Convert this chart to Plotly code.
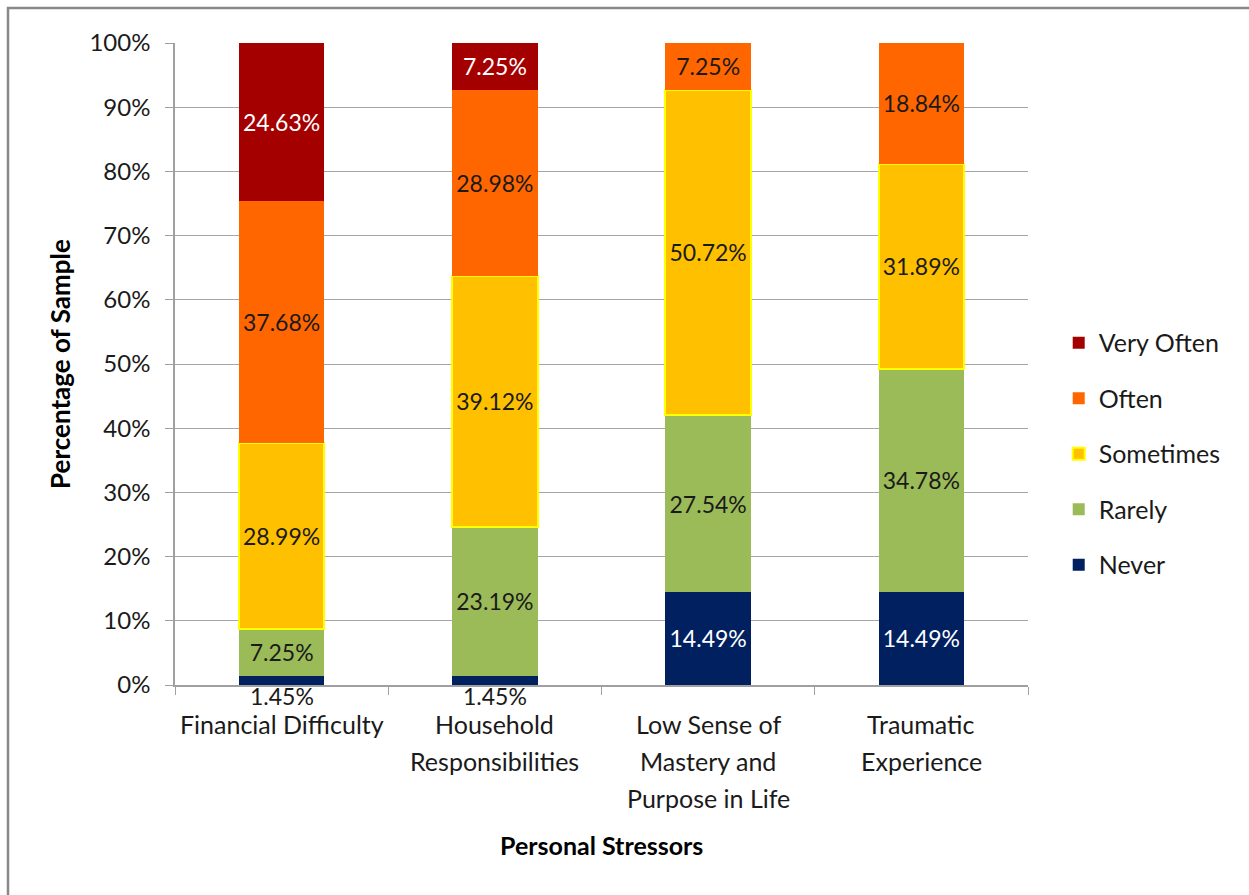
import plotly.graph_objects as go

categories = ["Financial Difficulty", "Household Responsibilities",
              "Low Sense of Mastery and Purpose in Life", "Traumatic Experience"]
category_lines = [["Financial Difficulty"],
                  ["Household", "Responsibilities"],
                  ["Low Sense of", "Mastery and", "Purpose in Life"],
                  ["Traumatic", "Experience"]]

never = [1.45, 1.45, 14.49, 14.49]
rarely = [7.25, 23.19, 27.54, 34.78]
sometimes = [28.99, 39.12, 50.72, 31.89]
often = [37.68, 28.98, 7.25, 18.84]
very_often = [24.63, 7.25, 0, 0]

y_ticks = [0, 10, 20, 30, 40, 50, 60, 70, 80, 90, 100]
y_tick_labels = [f"{v}%" for v in y_ticks]

series = [
    ("Never", never, "#002060", "white", None),
    ("Rarely", rarely, "#9BBB59", "#1a1a1a", None),
    ("Sometimes", sometimes, "#FFC000", "#1a1a1a", "#FFFF00"),
    ("Often", often, "#FF6600", "#1a1a1a", None),
    ("Very Often", very_often, "#A50000", "white", None),
]

FONT = "Lato, 'Open Sans', sans-serif"
W, H = 1249, 895
ML, MR, MT, MB = 175, 221, 43, 210
PW, PH = W - ML - MR, H - MT - MB

fig = go.Figure()
annotations = []
n = len(series)
for i, (name, vals, color, tcolor, lcolor) in enumerate(series):
    texts = [f"{v:.2f}%" if v >= 3 else "" for v in vals]
    fig.add_trace(go.Bar(
        name=name, x=categories, y=vals, text=texts,
        textposition="inside", insidetextanchor="middle", textangle=0,
        textfont=dict(family=FONT, size=23, color=tcolor),
        marker=dict(color=color,
                    line=dict(color=lcolor if lcolor else color,
                              width=2 if lcolor else 0)),
        width=0.4, legendgroup=name, legendrank=n - i, hoverinfo="skip",
    ))
    for c, v in zip(categories, vals):
        if 0 < v < 3:
            annotations.append(dict(
                x=c, y=0, xref="x", yref="y", text=f"{v:.2f}%",
                showarrow=False, yshift=-11, yanchor="middle",
                font=dict(family=FONT, size=23, color="#1a1a1a")))

for c, lines in zip(categories, category_lines):
    for j, line in enumerate(lines):
        annotations.append(dict(
            x=c, y=0, xref="x", yref="paper", text=line, showarrow=False,
            yshift=-(39 + 37 * j), yanchor="middle",
            font=dict(family=FONT, size=25, color="#1a1a1a")))

annotations.append(dict(
    x=0.5, y=0, xref="paper", yref="paper", text="<b>Personal Stressors</b>",
    showarrow=False, yshift=-160, yanchor="middle",
    font=dict(family=FONT, size=25, color="black")))

fig.update_layout(
    barmode="stack",
    width=W, height=H,
    margin=dict(l=ML, r=MR, t=MT, b=MB),
    paper_bgcolor="white", plot_bgcolor="white",
    font=dict(family=FONT, size=24, color="#1a1a1a"),
    showlegend=True,
    legend=dict(x=1.036, y=0.36, xanchor="left", yanchor="middle",
                traceorder="grouped", tracegroupgap=20,
                font=dict(family=FONT, size=25, color="#1a1a1a"),
                bgcolor="rgba(0,0,0,0)"),
    annotations=annotations,
    xaxis=dict(showticklabels=False, ticks="outside", tickson="boundaries",
               ticklen=8, tickcolor="#A0A0A0", showline=True,
               linecolor="#A0A0A0", linewidth=1.5, showgrid=False),
    yaxis=dict(range=[0, 100], tickmode="array", tickvals=y_ticks,
               ticktext=y_tick_labels,
               ticks="outside", ticklen=8, tickcolor="#A0A0A0",
               ticklabelstandoff=10,
               showline=True, linecolor="#A0A0A0", linewidth=1.5,
               showgrid=True, gridcolor="#A6A6A6", gridwidth=1.3,
               zeroline=False,
               tickfont=dict(family=FONT, size=24, color="#1a1a1a"),
               title=dict(text="<b>Percentage of Sample</b>", standoff=11,
                          font=dict(family=FONT, size=26, color="black"))),
    shapes=[dict(type="rect", xref="paper", yref="paper",
                 x0=(8 - ML) / PW, x1=1.6, y0=-0.6, y1=1 + (MT - 8) / PH,
                 line=dict(color="#888888", width=2.5), layer="below")],
)

fig.write_html("out.html")
